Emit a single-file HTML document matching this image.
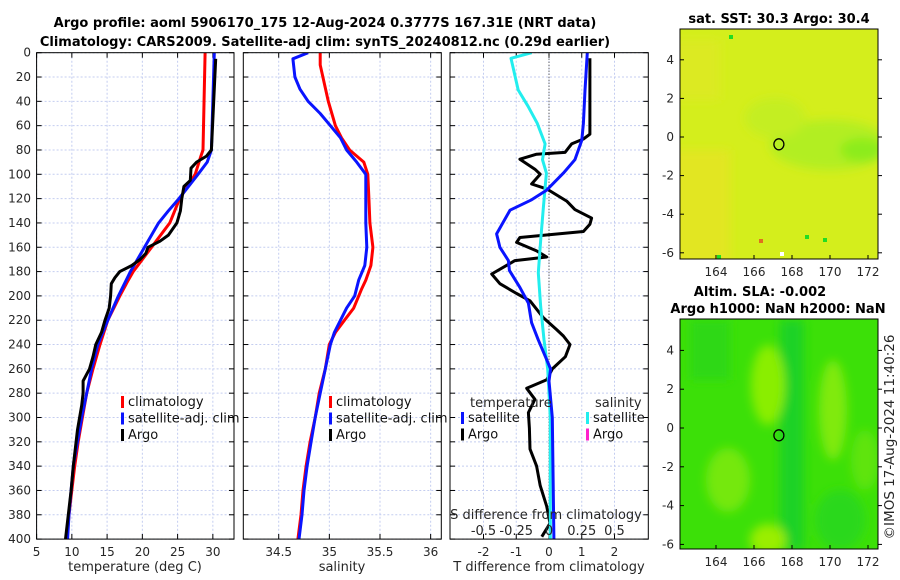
<!DOCTYPE html>
<html><head><meta charset="utf-8">
<style>
body{margin:0;background:#fff;}
svg{display:block;font-family:"DejaVu Sans","Liberation Sans",sans-serif;}
.t{font-size:12px;fill:#262626;}
.b{font-size:13px;font-weight:bold;fill:#000;}
</style></head>
<body>
<svg id="chart" width="900" height="580" viewBox="0 0 900 580" xmlns="http://www.w3.org/2000/svg">
<defs>
<clipPath id="c1"><rect x="36.6" y="52.7" width="197.4" height="486.4"/></clipPath>
<clipPath id="c2"><rect x="243.3" y="52.7" width="198" height="486.4"/></clipPath>
<clipPath id="c3"><rect x="450" y="52.7" width="198.3" height="486.4"/></clipPath>
<clipPath id="cm1"><rect x="680" y="29" width="198" height="230"/></clipPath>
<clipPath id="cm2"><rect x="680" y="319" width="198" height="230"/></clipPath>
<filter id="bl" x="-50%" y="-50%" width="200%" height="200%"><feGaussianBlur stdDeviation="5"/></filter>
</defs>
<rect width="900" height="580" fill="#fff"/>
<text class="b" x="325" y="27" text-anchor="middle">Argo profile: aoml 5906170_175 12-Aug-2024 0.3777S 167.31E (NRT data)</text>
<text class="b" x="325" y="46" text-anchor="middle">Climatology: CARS2009. Satellite-adj clim: synTS_20240812.nc (0.29d earlier)</text>
<g id="p1"></g>
<g id="p2"></g>
<g id="p3"></g>
<g id="m1"></g>
<g id="m2"></g>
<text class="b" x="779" y="23" text-anchor="middle">sat. SST: 30.3 Argo: 30.4</text>
<text class="b" x="760" y="296" text-anchor="middle">Altim. SLA: -0.002</text>
<text class="b" x="778" y="313" text-anchor="middle">Argo h1000: NaN h2000: NaN</text>
<text class="t" x="0" y="0" transform="translate(894,437) rotate(-90)" text-anchor="middle" style="font-size:13.5px">©IMOS 17-Aug-2024 11:40:26</text>
</svg>
<script>
// ---- data ----
const depthTicks = [0,20,40,60,80,100,120,140,160,180,200,220,240,260,280,300,320,340,360,380,400];
const tTicks = [5,10,15,20,25,30];
const sTicks = [34.5,35,35.5,36];
const sTickLabels = ['34.5','35','35.5','36'];
const dTicks = [-2,-1,0,1,2];
const dsTickLabels = ['-0.5','-0.25','0','0.25','0.5'];
const dsTickVals = [-0.5,-0.25,0,0.25,0.5];

const climTD = [0,80,85,100,120,140,160,180,187,200,220,240,260,280,300,320,340,360,380,400];
const climT  = [28.9,28.6,28.3,27.5,25.3,23.9,21.3,18.7,18.0,16.8,15.1,14.0,13.0,12.1,11.5,10.9,10.4,10.0,9.6,9.3];
const satTD = [0,80,90,100,120,130,140,160,180,200,220,240,260,280,300,320,340,360,380,400];
const satT  = [30.2,29.8,29.2,27.9,25.2,23.7,22.3,20.3,18.3,16.6,15.1,13.7,12.8,12.1,11.4,10.8,10.2,9.9,9.6,9.4];
const argoTD = [5,80,85,90,95,105,110,120,130,140,150,155,160,165,170,175,180,185,190,200,210,220,230,240,250,260,270,280,290,300,310,320,340,360,380,400];
const argoT  = [30.4,29.8,29.1,27.7,26.9,26.8,25.9,25.6,25.4,24.9,23.7,22.5,20.8,20.5,19.7,18.5,16.8,16.1,15.6,15.5,15.3,14.7,14.2,13.4,13.0,12.5,11.6,11.6,11.4,11.1,10.8,10.6,10.2,9.9,9.5,9.1];

const climSD = [0,10,40,60,70,80,90,100,120,140,160,175,187,194,210,220,230,240,260,280,300,320,340,360,380,400];
const climS  = [34.91,34.91,34.99,35.06,35.12,35.20,35.34,35.38,35.39,35.40,35.43,35.41,35.36,35.32,35.24,35.15,35.06,35.00,34.96,34.90,34.86,34.81,34.77,34.74,34.72,34.69];
const satSD = [0,5,20,30,40,50,60,70,80,90,100,120,140,160,175,187,200,210,220,230,240,260,280,300,320,340,360,380,400];
const satS  = [34.79,34.64,34.66,34.71,34.79,34.91,35.01,35.11,35.17,35.27,35.36,35.36,35.36,35.37,35.35,35.29,35.25,35.17,35.11,35.05,35.01,34.96,34.91,34.86,34.82,34.78,34.75,34.73,34.70];

const dSsatD = [0,4.6,30.7,44,58,75,88,99,127,154,181,209,236,260,280,300,400];
const dSsat  = [-0.132,-0.29,-0.235,-0.16,-0.09,-0.03,-0.05,-0.02,-0.043,-0.063,-0.082,-0.063,-0.038,-0.01,0.0,0.01,0.01];
const dTsatD = [0,31,58,72,88,99,113,121,129.5,149,160,171,179,193,206,222,236,260,270,300,400];
const dTsat  = [1.17,1.10,1.05,1.0,0.79,0.44,-0.07,-0.53,-1.19,-1.6,-1.5,-1.24,-1.21,-0.89,-0.63,-0.53,-0.33,0.05,0.0,0.1,0.15];
const dTargoD = [4.6,67,71,75,82,83.5,87.6,95.8,99.9,108,112,122,129,136,141,147,152,156,163,168,171,182,190,198,204,218,228,233,240,250,260,269,276,285,296,309,326,340,356,373,387,398];
const dTargo  = [1.25,1.25,1.05,0.69,0.49,-0.38,-0.89,-0.43,-0.27,-0.53,-0.07,0.54,0.79,1.3,1.25,1.05,-0.89,-0.99,-0.38,-0.07,-1.04,-1.75,-1.5,-0.99,-0.58,-0.17,0.24,0.44,0.64,0.5,0.1,-0.07,-0.68,-0.43,-0.63,-0.6,-0.58,-0.38,-0.27,-0.07,0.03,-0.22];

const lonTicks = [164,166,168,170,172];
const latTicks = [4,2,0,-2,-4,-6];
const argoLon = [167.31];
const argoLat = [-0.3777];

// ---- scales ----
const yD = d => 52.7 + d*1.216;
const xT = t => 36.6 + (t-5)*7.05;
const xS = s => 278.7 + (s-34.5)*101.3;
const xDT = v => 549 + v*32.75;
const xDS = v => 549 + v*131;
const lonX = l => 716 + (l-164)*19;
const latY1 = l => 137 - l*19.3;
const latY2 = l => 428 - l*19.4;

const NS='http://www.w3.org/2000/svg';
function mk(tag, parent, attrs){const e=document.createElementNS(NS,tag);for(const k in attrs)e.setAttribute(k,attrs[k]);parent.appendChild(e);return e;}
function txt(parent,x,y,s,anchor,cls){const e=mk('text',parent,{x:x,y:y,'text-anchor':anchor||'middle','class':cls||'t'});e.textContent=s;return e;}

function panel(g, x0, x1, clip, xticks, xfn, showY){
  mk('rect',g,{x:x0,y:52.7,width:x1-x0,height:486.4,fill:'#fff'});
  depthTicks.forEach(d=>{
    const l=mk('line',g,{x1:x0,x2:x1,y1:yD(d),y2:yD(d),stroke:'#c4cdf0','stroke-width':1,'stroke-dasharray':'2,2'});
    
    
    mk('line',g,{x1:x0,x2:x0+5,y1:yD(d),y2:yD(d),stroke:'#000'});
    mk('line',g,{x1:x1-5,x2:x1,y1:yD(d),y2:yD(d),stroke:'#000'});
    if(showY){const t=txt(g,31,yD(d)+4,String(d),'end');
      
      }
  });
  xticks.forEach(v=>{
    const x=xfn(v);
    const l=mk('line',g,{x1:x,x2:x,y1:52.7,y2:539.1,stroke:'#c4cdf0','stroke-width':1,'stroke-dasharray':'2,2'});
    
    
    mk('line',g,{x1:x,x2:x,y1:539.1,y2:534,stroke:'#000'});
    mk('line',g,{x1:x,x2:x,y1:52.7,y2:57.7,stroke:'#000'});
  });
  return mk('g',g,{'clip-path':'url(#'+clip+')'});
}
function line(g, xs, ds, xf, color, name){
  const p=xs.map((v,i)=>(i?'L':'M')+xf(v).toFixed(1)+','+yD(ds[i]).toFixed(1)).join('');
  const e=mk('path',g,{d:p,fill:'none',stroke:color,'stroke-width':3,'stroke-linejoin':'round'});
  
  
}
function frame(g,x0,x1){mk('rect',g,{x:x0,y:52.7,width:x1-x0,height:486.4,fill:'none',stroke:'#000','stroke-width':1});}
function legend(g,x,y,items){
  items.forEach((it,i)=>{
    const m=mk('rect',g,{x:x,y:y+i*16.5-10,width:3,height:12,fill:it[1]});
    
    
    const t=txt(g,x+7,y+i*16.5,it[0],'start');
    
    
    t.setAttribute('style','font-size:13px;fill:#111');
  });
}

// Panel 1
const p1=document.getElementById('p1');
let c=panel(p1,36.6,234,'c1',tTicks,xT,true);
line(c,climT,climTD,xT,'#ff0000','climatology-temp-line');
line(c,satT,satTD,xT,'#0a14ff','satellite-temp-line');
line(c,argoT,argoTD,xT,'#000000','argo-temp-line');
tTicks.forEach(v=>{const t=txt(p1,xT(v),556,String(v));
  
  });
let xl=txt(p1,135,571,'temperature (deg C)');


xl.setAttribute('style','font-size:13px');
legend(p1,121,406,[['climatology','#ff0000'],['satellite-adj. clim','#0a14ff'],['Argo','#000']]);
frame(p1,36.6,234);

// Panel 2
const p2=document.getElementById('p2');
c=panel(p2,243.3,441.3,'c2',sTicks,xS,false);
line(c,climS,climSD,xS,'#ff0000','climatology-salinity-line');
line(c,satS,satSD,xS,'#0a14ff','satellite-salinity-line');
frame(p2,243.3,441.3);
sTicks.forEach((v,i)=>{const t=txt(p2,xS(v),556,sTickLabels[i]);
  
  });
xl=txt(p2,342,571,'salinity');


xl.setAttribute('style','font-size:13px');
legend(p2,329,406,[['climatology','#ff0000'],['satellite-adj. clim','#0a14ff'],['Argo','#000']]);

// Panel 3
const p3=document.getElementById('p3');
c=panel(p3,450,648.3,'c3',dTicks,xDT,false);
mk('line',c,{x1:549,x2:549,y1:52.7,y2:539,stroke:'#333','stroke-width':1,'stroke-dasharray':'1,2'});
line(c,dTargo,dTargoD,xDT,'#000000','argo-temp-diff-line');
line(c,dSsat,dSsatD,xDS,'#22eeee','satellite-salinity-diff-line');
line(c,dTsat,dTsatD,xDT,'#0a14ff','satellite-temp-diff-line');
frame(p3,450,648.3);
dTicks.forEach(v=>{const t=txt(p3,xDT(v),556,String(v));
  
  });
dsTickVals.forEach((v,i)=>{const t=txt(p3,xDS(v),535,dsTickLabels[i]);
  
  
  t.setAttribute('style','font-size:13px');});
let st=txt(p3,546,519,'S difference from climatology');


st.setAttribute('style','font-size:13px');
xl=txt(p3,549,571,'T difference from climatology');


xl.setAttribute('style','font-size:13px');
let lt=txt(p3,470,407,'temperature','start');


lt.setAttribute('style','font-size:13px');
lt=txt(p3,595,407,'salinity','start');


lt.setAttribute('style','font-size:13px');
legend(p3,461,422,[['satellite','#0a14ff'],['Argo','#000']]);
legend(p3,586,422,[['satellite','#22eeee'],['Argo','#ff22cc']]);

// Maps
function mapAxes(g,y0,y1,latY){
  mk('rect',g,{x:680,y:y0,width:198,height:y1-y0,fill:'none',stroke:'#000'});
  latTicks.forEach(v=>{const y=latY(v);
    mk('line',g,{x1:878,x2:882,y1:y,y2:y,stroke:'#000'});
    mk('line',g,{x1:680,x2:684,y1:y,y2:y,stroke:'#000'});
    const t=txt(g,674,y+4,String(v),'end');
    
    });
  lonTicks.forEach(v=>{const x=lonX(v);
    mk('line',g,{x1:x,x2:x,y1:y1,y2:y1-4,stroke:'#000'});
    const t=txt(g,x,y1+17,String(v));
    
    });
  const ci=mk('ellipse',g,{cx:lonX(argoLon[0]),cy:latY(argoLat[0]),rx:5,ry:5.5,fill:'none',stroke:'#000','stroke-width':1.3});
  
  
}
const m1=document.getElementById('m1');
let cg=mk('g',m1,{'clip-path':'url(#cm1)'});
mk('rect',cg,{x:680,y:29,width:198,height:230,fill:'#d4ee1c'});
let bg=mk('g',cg,{filter:'url(#bl)'});
mk('rect',bg,{x:670,y:150,width:60,height:120,fill:'#e2e620'});
mk('rect',bg,{x:670,y:40,width:50,height:60,fill:'#dcea20'});
mk('ellipse',bg,{cx:830,cy:145,rx:60,ry:25,fill:'#b2ee22'});
mk('ellipse',bg,{cx:862,cy:150,rx:22,ry:12,fill:'#8cec1e'});
mk('ellipse',bg,{cx:775,cy:118,rx:30,ry:20,fill:'#c4ee22'});
mk('rect',cg,{x:780,y:252,width:4,height:4,fill:'#fff'});
mk('rect',cg,{x:759,y:239,width:4,height:4,fill:'#e0701e'});
mk('rect',cg,{x:805,y:235,width:4,height:4,fill:'#22dd22'});
mk('rect',cg,{x:729,y:35,width:4,height:4,fill:'#22dd22'});
mk('rect',cg,{x:823,y:238,width:4,height:4,fill:'#22dd22'});
mk('rect',cg,{x:717,y:255,width:4,height:4,fill:'#22dd22'});
mapAxes(m1,29,259,latY1);

const m2=document.getElementById('m2');
cg=mk('g',m2,{'clip-path':'url(#cm2)'});
mk('rect',cg,{x:680,y:319,width:198,height:230,fill:'#3ce008'});
bg=mk('g',cg,{filter:'url(#bl)'});
mk('rect',bg,{x:780,y:320,width:24,height:230,fill:'#1ad226'});
mk('rect',bg,{x:690,y:320,width:40,height:60,fill:'#2ed818'});
mk('ellipse',bg,{cx:768,cy:385,rx:17,ry:40,fill:'#8aee06'});
mk('ellipse',bg,{cx:833,cy:410,rx:14,ry:50,fill:'#80ea08'});
mk('ellipse',bg,{cx:728,cy:480,rx:22,ry:32,fill:'#74e80c'});
mk('ellipse',bg,{cx:768,cy:540,rx:18,ry:16,fill:'#9aee06'});
mk('ellipse',bg,{cx:865,cy:460,rx:14,ry:30,fill:'#5ee40a'});
mk('ellipse',bg,{cx:840,cy:520,rx:25,ry:30,fill:'#2ad81a'});
mapAxes(m2,319,549,latY2);
</script>
</body></html>
